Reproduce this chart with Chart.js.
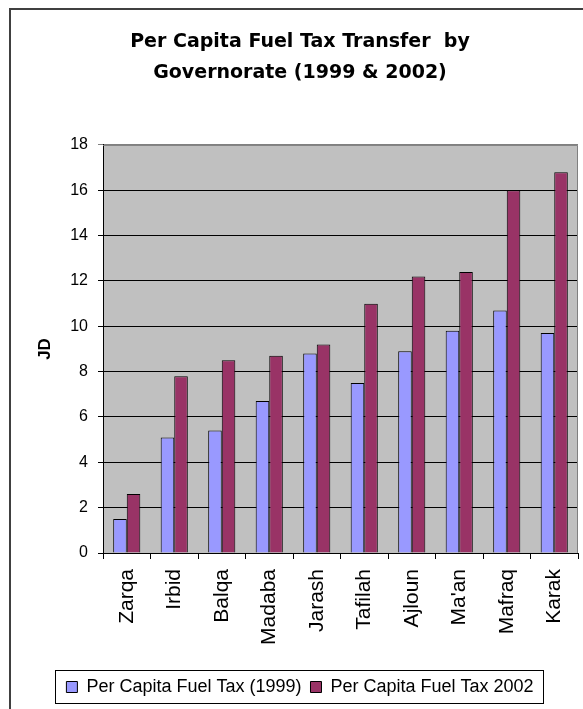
<!DOCTYPE html>
<html>
<head>
<meta charset="utf-8">
<title>Per Capita Fuel Tax Transfer by Governorate</title>
<script src="https://cdn.jsdelivr.net/npm/chart.js@4.4.1/dist/chart.umd.min.js"></script>
<style>
  body { margin: 0; background: #fff; }
  canvas { display: block; }
</style>
</head>
<body>
<canvas id="fuelChart" width="583" height="709"></canvas>
<script>
// data
const governorates = ['Zarqa', 'Irbid', 'Balqa', 'Madaba', 'Jarash', 'Tafilah', 'Ajloun', "Ma'an", 'Mafraq', 'Karak']
const tax1999 = [1.5, 5.1, 5.4, 6.7, 8.8, 7.5, 8.9, 9.8, 10.7, 9.7]
const tax2002 = [2.6, 7.8, 8.5, 8.7, 9.2, 11.0, 12.2, 12.4, 16.0, 16.8]
const yTicks = [0, 2, 4, 6, 8, 10, 12, 14, 16, 18]

const FONT = "'Liberation Sans', Arial, sans-serif"
Chart.defaults.color = '#000'
Chart.defaults.font.family = FONT

// grey plot area, chart border, legend frame
const framePlugin = {
  id: 'frame',
  beforeDraw(chart) {
    const { ctx, chartArea: a } = chart
    ctx.save()
    ctx.fillStyle = '#fff'
    ctx.fillRect(0, 0, chart.width, chart.height)
    ctx.fillStyle = '#c0c0c0'
    ctx.fillRect(a.left, a.top, a.right - a.left, a.bottom - a.top)
    ctx.restore()
  },
  beforeDatasetsDraw(chart) {
    const { ctx, chartArea: a } = chart
    ctx.save()
    ctx.strokeStyle = '#808080'
    ctx.lineWidth = 1
    ctx.beginPath()
    ctx.moveTo(a.left, a.top + 0.5)
    ctx.lineTo(a.right - 0.5, a.top + 0.5)
    ctx.lineTo(a.right - 0.5, a.bottom)
    ctx.stroke()
    ctx.restore()
  },
  afterDraw(chart) {
    const { ctx } = chart
    ctx.save()
    // outer chart border, runs off the right and bottom like the picture
    ctx.strokeStyle = '#404040'
    ctx.lineWidth = 2
    ctx.strokeRect(10, 9, 620, 760)
    // legend box
    const boxes = chart.legend.legendHitBoxes
    if (boxes && boxes.length) {
      let minX = Infinity, maxX = -Infinity
      boxes.forEach(b => {
        minX = Math.min(minX, b.left)
        maxX = Math.max(maxX, b.left + b.width)
      })
      ctx.strokeStyle = '#000'
      ctx.lineWidth = 1
      ctx.strokeRect(Math.round(minX) - 10.5, Math.round(chart.legend.top) + 1.5, Math.round(maxX - minX) + 21, Math.round(chart.legend.height) - 4)
    }
    ctx.restore()
  }
}

new Chart(document.getElementById('fuelChart'), {
  type: 'bar',
  data: {
    labels: governorates,
    datasets: [
      {
        label: 'Per Capita Fuel Tax (1999)',
        data: tax1999,
        backgroundColor: '#9999ff',
        borderColor: '#000',
        borderWidth: 1
      },
      {
        label: 'Per Capita Fuel Tax 2002',
        data: tax2002,
        backgroundColor: '#993366',
        borderColor: '#000',
        borderWidth: 1
      }
    ]
  },
  options: {
    responsive: false,
    animation: false,
    layout: { padding: { top: 10, left: 22, right: 5, bottom: 3 } },
    datasets: {
      bar: { categoryPercentage: 0.571, barPercentage: 1 }
    },
    plugins: {
      title: {
        display: true,
        text: ['Per Capita Fuel Tax Transfer  by', 'Governorate (1999 & 2002)'],
        font: { family: "'DejaVu Sans', Verdana, sans-serif", size: 19, weight: 'bold', lineHeight: 1.63 },
        color: '#000',
        padding: { top: 17, bottom: 56 }
      },
      legend: {
        position: 'bottom',
        labels: {
          boxWidth: 11,
          boxHeight: 11,
          padding: 9,
          font: { size: 18 },
          color: '#000'
        }
      },
      tooltip: { enabled: false }
    },
    scales: {
      x: {
        grid: {
          drawOnChartArea: false,
          color: '#000',
          tickLength: 6
        },
        border: { color: '#000', width: 1 },
        ticks: {
          minRotation: 90,
          maxRotation: 90,
          padding: 10,
          font: { size: 21 },
          color: '#000'
        },
        afterFit(scale) {
          scale.height = 116
          // plot area runs right up to the chart edge
          scale.paddingRight = 0
        }
      },
      y: {
        min: 0,
        max: 18,
        afterBuildTicks(scale) { scale.ticks = yTicks.map(v => ({ value: v })) },
        grid: {
          color: ctx => (ctx.tick && ctx.tick.value === 18 ? '#808080' : '#000'),
          tickLength: 5
        },
        border: { color: '#000', width: 1 },
        ticks: { padding: 10, font: { size: 16 }, color: '#000' },
        title: {
          display: true,
          text: 'JD',
          font: { size: 17, weight: 'bold' },
          color: '#000',
          padding: { top: 13, bottom: 0 }
        },
        afterFit(scale) { scale.width = 81 }
      }
    }
  },
  plugins: [framePlugin]
})
</script>
</body>
</html>
